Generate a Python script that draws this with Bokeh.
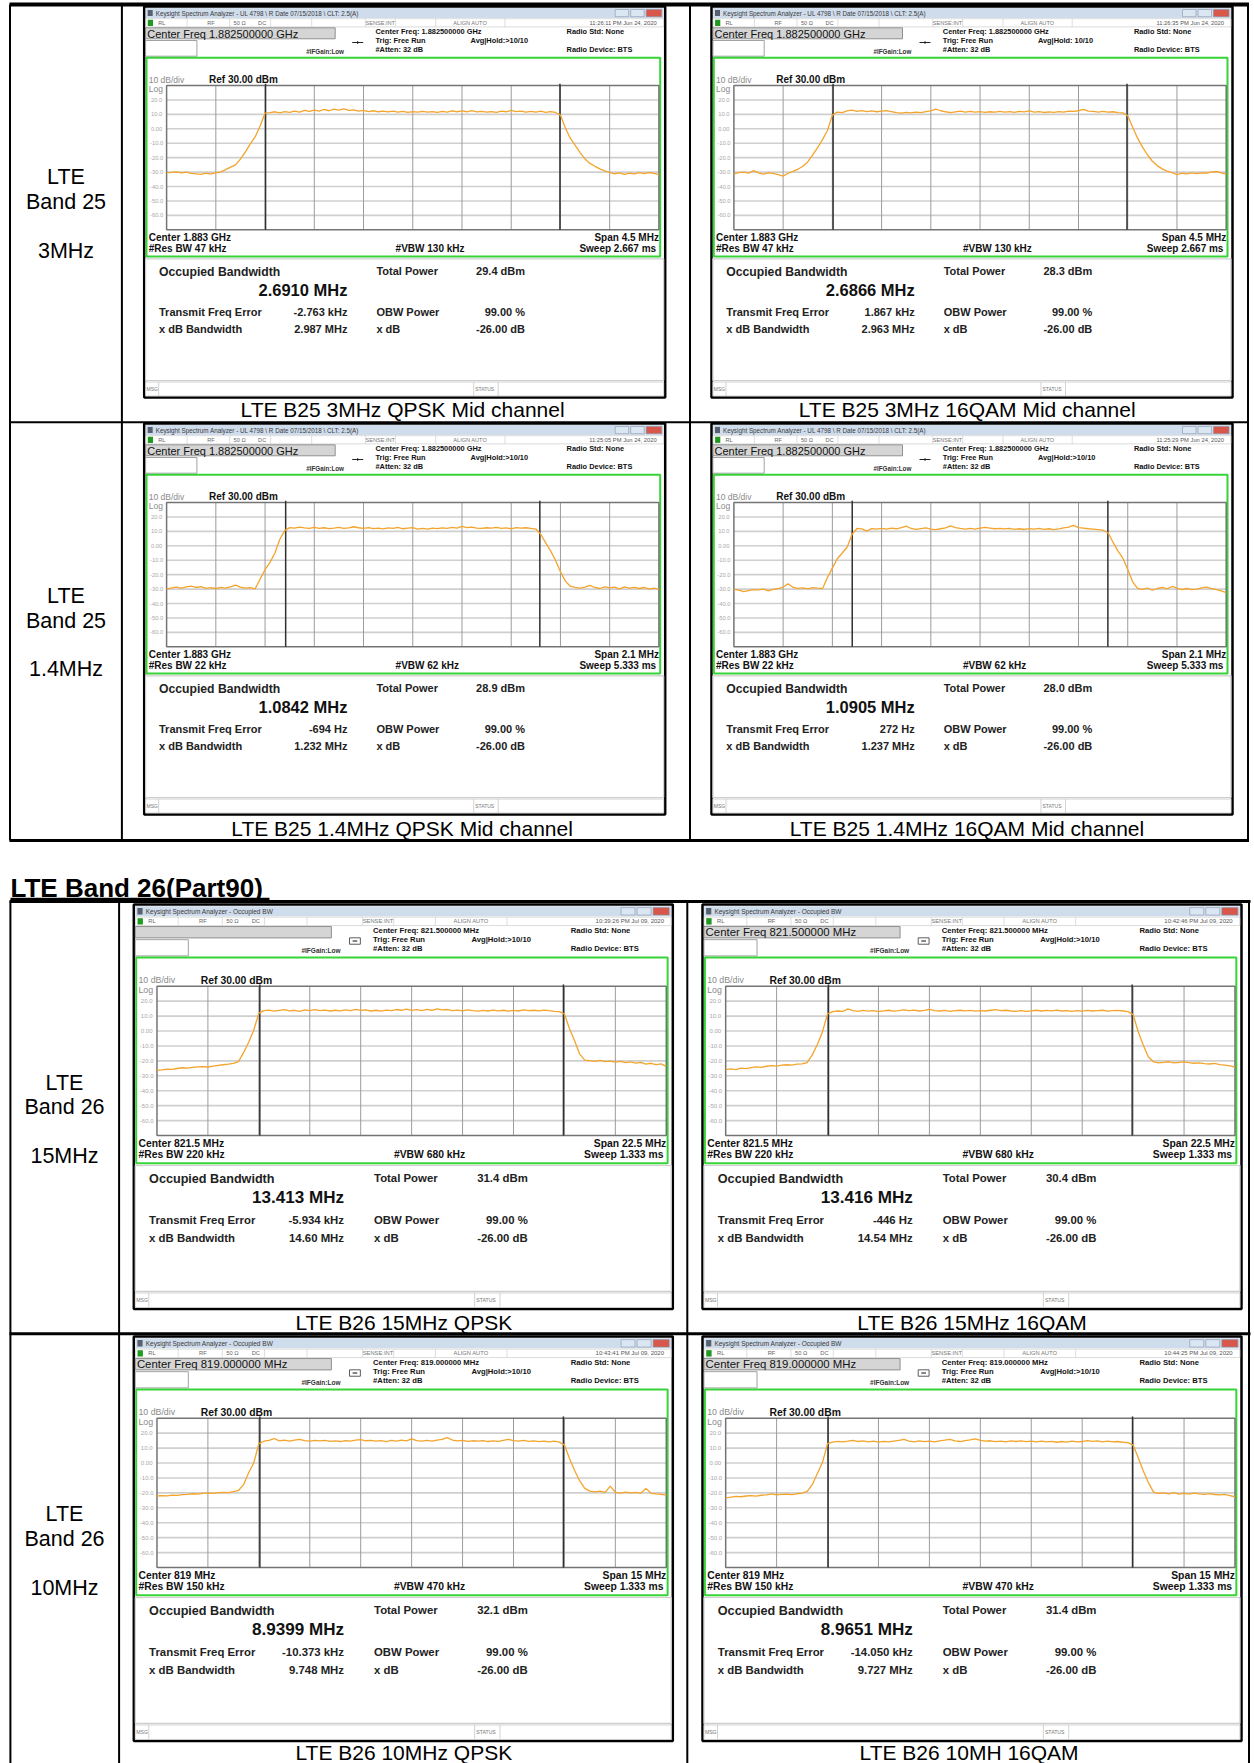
import numpy as np
from bokeh.plotting import figure
from bokeh.models import Range1d, ColumnDataSource
from bokeh.core.properties import value
from bokeh.embed import file_html
from bokeh.resources import INLINE

FONT = value("Liberation Sans")
ORANGE = "#f4a42c"

# ------------------------------------------------------------------ data
heading_b26 = "LTE Band 26(Part90)"
row_labels = [("LTE", "Band 25", "3MHz"), ("LTE", "Band 25", "1.4MHz"),
              ("LTE", "Band 26", "15MHz"), ("LTE", "Band 26", "10MHz")]
captions = ["LTE B25 3MHz  QPSK Mid channel", "LTE B25 3MHz  16QAM  Mid channel",
            "LTE B25 1.4MHz  QPSK Mid channel", "LTE B25 1.4MHz  16QAM  Mid channel",
            "LTE B26 15MHz QPSK", "LTE B26 15MHz 16QAM",
            "LTE B26 10MHz QPSK", "LTE B26 10MH  16QAM"]
title_b25 = "Keysight Spectrum Analyzer - UL 4798 \\ R Date 07/15/2018 \\ CLT: 2.5(A)"
title_b26 = "Keysight Spectrum Analyzer - Occupied BW"
window_titles = [title_b25] * 4 + [title_b26] * 4
timestamps = ["11:26:11 PM Jun 24, 2020", "11:26:35 PM Jun 24, 2020",
              "11:25:05 PM Jun 24, 2020", "11:25:29 PM Jun 24, 2020",
              "10:39:26 PM Jul 09, 2020", "10:42:46 PM Jul 09, 2020",
              "10:43:41 PM Jul 09, 2020", "10:44:25 PM Jul 09, 2020"]
center_box = ["Center Freq 1.882500000 GHz"] * 4 + ["", "Center Freq 821.500000 MHz",
              "Center Freq 819.000000 MHz", "Center Freq 819.000000 MHz"]
info_center = ["Center Freq: 1.882500000 GHz"] * 4 + ["Center Freq: 821.500000 MHz"] * 2 + \
              ["Center Freq: 819.000000 MHz"] * 2
avg_hold = ["Avg|Hold:>10/10", "Avg|Hold: 10/10"] + ["Avg|Hold:>10/10"] * 6
status_left = ["RL", "RF", "50 \u03a9", "DC"]
center_lbl = ["Center  1.883 GHz"] * 4 + ["Center  821.5 MHz"] * 2 + ["Center  819 MHz"] * 2
rbw_lbl = ["#Res BW  47 kHz"] * 2 + ["#Res BW  22 kHz"] * 2 + ["#Res BW  220 kHz"] * 2 + ["#Res BW  150 kHz"] * 2
vbw_lbl = ["#VBW  130 kHz"] * 2 + ["#VBW  62 kHz"] * 2 + ["#VBW  680 kHz"] * 2 + ["#VBW  470 kHz"] * 2
span_lbl = ["Span 4.5 MHz"] * 2 + ["Span 2.1 MHz"] * 2 + ["Span 22.5 MHz"] * 2 + ["Span 15 MHz"] * 2
sweep_lbl = ["Sweep  2.667 ms"] * 2 + ["Sweep  5.333 ms"] * 2 + ["Sweep  1.333 ms"] * 4
span_mhz = [4.5, 4.5, 2.1, 2.1, 22.5, 22.5, 15.0, 15.0]
obw_mhz = [2.6910, 2.6866, 1.0842, 1.0905, 13.413, 13.416, 8.9399, 8.9651]
obw_text = ["2.6910 MHz", "2.6866 MHz", "1.0842 MHz", "1.0905 MHz",
            "13.413 MHz", "13.416 MHz", "8.9399 MHz", "8.9651 MHz"]
total_power = ["29.4 dBm", "28.3 dBm", "28.9 dBm", "28.0 dBm",
               "31.4 dBm", "30.4 dBm", "32.1 dBm", "31.4 dBm"]
freq_error = ["-2.763 kHz", "1.867 kHz", "-694 Hz", "272 Hz",
              "-5.934 kHz", "-446 Hz", "-10.373 kHz", "-14.050 kHz"]
xdb_bw = ["2.987 MHz", "2.963 MHz", "1.232 MHz", "1.237 MHz",
          "14.60 MHz", "14.54 MHz", "9.748 MHz", "9.727 MHz"]
obw_power = "99.00 %"
xdb_level = "-26.00 dB"
ref_level = 30.0
db_per_div = 10.0
grid_labels = ["20.0", "10.0", "0.00", "-10.0", "-20.0", "-30.0", "-40.0", "-50.0", "-60.0"]

# sweep positions in graticule divisions (0..10), one reading every 0.1 div
sweep_div = [i / 10 for i in range(101)]

trace_b25_3_qpsk = [
    -30.5, -30.2, -29.8, -30.6, -30.0, -30.9, -31.2, -31.6, -30.8, -31.3,
    -30.6, -29.8, -28.3, -26.6, -25.0, -21.0, -16.0, -10.5, -5.5, 2.0,
    10.8, 11.2, 11.8, 11.1, 11.9, 11.4, 12.2, 11.6, 12.8, 12.0,
    13.0, 12.3, 13.4, 12.5, 13.7, 12.9, 13.8, 12.8, 13.1, 12.3,
    12.7, 11.9, 12.5, 11.8, 12.3, 11.7, 12.2, 11.5, 12.0, 11.4,
    11.9, 11.5, 12.1, 11.6, 11.9, 11.3, 12.0, 11.5, 12.5, 11.8,
    12.4, 11.8, 12.6, 11.7, 12.1, 11.5, 11.9, 11.3, 12.3, 11.8,
    12.7, 11.9, 12.3, 11.5, 12.1, 11.6, 12.2, 11.4, 11.9, 11.3,
    9.5, 0.5, -6.5, -11.5, -16.5, -21.0, -24.0, -26.0, -27.8, -29.2,
    -30.2, -31.3, -30.5, -31.6, -30.8, -31.2, -30.4, -31.0, -30.3, -30.9,
    -31.8]
trace_b25_3_16qam = [
    -31.2, -30.4, -30.0, -30.8, -29.0, -30.6, -31.4, -30.5, -30.9, -31.8,
    -32.8, -30.8, -29.5, -28.0, -26.0, -23.0, -18.0, -13.0, -7.5, -1.2,
    9.5, 11.6, 11.2, 12.4, 12.9, 12.1, 12.6, 11.9, 12.4, 11.8,
    12.3, 12.6, 11.9, 11.2, 10.9, 11.4, 11.0, 11.6, 11.2, 11.9,
    12.4, 13.6, 12.5, 11.8, 11.2, 11.7, 12.2, 11.6, 12.1, 11.5,
    11.9, 11.4, 11.8, 11.5, 12.0, 11.6, 11.9, 11.4, 12.1, 11.7,
    12.4, 11.6, 11.9, 11.3, 11.7, 11.4, 11.9, 11.6, 12.3, 12.0,
    12.5, 13.4, 12.2, 12.0, 11.5, 12.1, 11.6, 11.8, 11.2, 11.0,
    9.0, 1.0, -6.5, -12.7, -18.0, -22.5, -25.5, -27.8, -29.3, -30.4,
    -31.7, -30.8, -31.2, -30.6, -31.0, -30.5, -30.8, -30.0, -29.6, -30.5,
    -31.5]
trace_b25_14_qpsk = [
    -30.0, -29.2, -28.6, -29.4, -28.4, -28.0, -28.9, -28.3, -29.5, -29.0,
    -29.6, -28.8, -29.3, -28.5, -27.2, -28.6, -29.4, -29.0, -29.8, -23.0,
    -16.5, -11.5, -5.0, 4.5, 10.5, 12.6, 12.2, 13.0, 12.4, 12.0,
    12.7, 12.1, 12.5, 11.9, 12.3, 12.8, 12.0, 12.4, 13.2, 12.5,
    12.1, 12.6, 11.9, 12.3, 11.7, 12.4, 12.0, 12.8, 11.8, 12.2,
    12.6, 11.6, 12.0, 11.5, 12.3, 11.9, 12.4, 12.1, 12.7, 12.2,
    13.4, 12.6, 12.9, 12.3, 12.0, 12.5, 12.2, 12.7, 12.1, 12.4,
    11.8, 12.6, 12.2, 12.5, 12.0, 11.6, 8.0, 2.0, -3.5, -10.0,
    -18.0, -24.5, -28.0, -28.8, -29.3, -28.6, -27.4, -28.9, -29.6, -28.4,
    -29.2, -28.7, -29.8, -28.5, -29.3, -28.8, -29.6, -28.9, -30.0, -29.4,
    -30.2]
trace_b25_14_16qam = [
    -30.2, -30.8, -31.8, -31.0, -30.4, -30.6, -30.0, -31.3, -30.2, -29.6,
    -28.6, -26.3, -28.8, -29.5, -29.2, -29.8, -29.0, -29.4, -29.7, -22.0,
    -15.5, -9.0, -5.0, -1.0, 8.0, 12.0, 11.7, 10.2, 11.9, 11.5,
    12.0, 11.6, 12.3, 11.8, 12.6, 13.6, 12.0, 11.4, 11.9, 12.4,
    11.6, 11.2, 11.8, 12.4, 13.8, 12.6, 12.0, 11.5, 12.0, 11.6,
    12.2, 12.8, 12.3, 11.8, 12.1, 11.7, 12.0, 11.4, 11.8, 11.3,
    11.9, 11.5, 12.0, 11.4, 11.8, 11.2, 11.7, 12.4, 12.9, 14.2,
    12.6, 12.3, 11.8, 11.5, 11.2, 10.8, 9.0, 2.5, -3.5, -8.5,
    -16.5, -25.0, -29.5, -30.2, -29.4, -30.8, -29.6, -28.9, -29.8, -28.2,
    -29.4, -30.3, -29.6, -30.4, -30.0, -29.2, -28.6, -29.6, -30.4, -31.2,
    -32.4]
trace_b26_15_qpsk = [
    -26.4, -26.0, -25.5, -25.7, -25.1, -24.6, -24.9, -24.3, -24.0, -23.8,
    -24.1, -23.5, -23.0, -22.6, -22.2, -21.7, -20.5, -14.5, -7.5, 0.5,
    12.0, 13.6, 14.0, 13.3, 13.8, 14.3, 13.5, 13.9, 13.2, 14.1,
    13.6, 14.4, 13.7, 14.0, 13.4, 13.9, 13.5, 14.2, 13.7, 14.5,
    13.8, 14.1, 13.4, 13.9, 13.3, 14.0, 13.6, 14.4, 13.9, 14.6,
    13.8, 14.3, 13.7, 14.5, 13.9, 14.8, 14.1, 14.4, 13.6, 14.0,
    13.5, 14.2, 13.7, 13.3, 13.8, 13.4, 14.0, 13.5, 13.9, 13.3,
    13.8, 13.4, 14.1, 13.6, 13.9, 13.5, 14.0, 13.6, 13.2, 13.0,
    11.5, 1.5, -6.5, -15.5, -19.5, -19.9, -20.3, -19.6, -20.5, -20.1,
    -20.8, -20.4, -21.2, -20.7, -21.5, -21.0, -22.2, -21.6, -22.5, -22.0,
    -23.7]
trace_b26_15_16qam = [
    -25.9, -25.4, -25.8, -24.9, -25.2, -24.5, -24.0, -24.3, -23.6, -23.2,
    -23.5, -22.9, -22.6, -22.8, -22.2, -22.0, -21.2, -16.0, -9.0, -0.6,
    11.5, 13.0, 13.4, 13.1, 14.8, 13.6, 13.2, 13.8, 13.3, 13.6,
    13.0, 13.5, 13.9, 13.3, 13.7, 14.2, 13.6, 14.0, 13.4, 13.8,
    14.5, 13.7, 13.4, 13.8, 13.2, 13.6, 13.9, 13.5, 13.8, 13.3,
    13.7, 13.4, 13.9, 14.3, 13.6, 13.9, 13.4, 13.2, 13.6, 13.1,
    13.5, 13.9, 13.4, 13.8, 13.5, 14.0, 13.4, 13.7, 13.2, 13.6,
    13.3, 13.8, 13.4, 13.7, 13.9, 13.3, 13.6, 13.8, 13.4, 13.0,
    11.0, -0.5, -9.6, -17.4, -20.6, -21.3, -21.0, -20.6, -21.4, -21.0,
    -20.7, -21.2, -21.6, -21.3, -21.8, -22.1, -21.7, -22.5, -22.9, -23.4,
    -24.1]
trace_b26_10_qpsk = [
    -22.1, -21.8, -22.0, -21.5, -21.7, -21.2, -21.0, -20.6, -20.9, -20.3,
    -20.0, -20.4, -19.8, -19.6, -19.9, -19.1, -18.4, -14.5, -6.5, 0.0,
    13.0, 14.6, 15.2, 16.4, 14.8, 15.3, 14.7, 15.4, 15.9, 15.0,
    14.6, 15.2, 14.8, 15.1, 14.5, 14.9, 14.4, 15.0, 14.7, 15.3,
    15.6, 14.9, 15.2, 14.6, 15.0, 14.4, 15.1, 14.7, 15.3, 14.9,
    16.2, 15.0, 14.6, 15.1, 14.7, 15.3, 15.8, 17.0, 15.4, 14.8,
    15.1, 14.5, 14.9, 14.6, 15.0, 14.4, 14.8, 14.5, 15.2, 15.8,
    15.0, 14.6, 15.1, 14.5, 14.9, 14.3, 14.7, 14.2, 14.6, 14.0,
    12.0, 3.0, -5.0, -12.0, -17.0, -18.8, -19.4, -18.9, -19.7, -15.5,
    -19.6, -20.1, -19.5, -20.0, -19.7, -20.2, -17.0, -20.3, -20.7, -21.0,
    -21.5]
trace_b26_10_16qam = [
    -23.3, -22.9, -22.4, -22.6, -22.1, -21.8, -22.2, -21.6, -21.3, -20.6,
    -21.4, -21.0, -20.8, -21.2, -20.6, -20.2, -19.0, -14.5, -7.0, 0.3,
    13.0, 14.0, 14.5, 14.1, 14.6, 15.2, 14.4, 14.8, 14.2, 14.6,
    14.0, 14.5, 14.1, 14.7, 15.1, 15.8, 14.6, 14.2, 14.8, 14.3,
    14.7, 14.2, 14.9, 15.3, 15.9, 14.8, 14.4, 15.0, 15.5, 16.2,
    15.1, 14.6, 14.9, 14.3, 14.7, 14.2, 14.8, 14.4, 14.9, 14.3,
    14.6, 14.1, 14.7, 14.2, 14.5, 13.9, 14.4, 14.0, 14.6, 14.1,
    14.4, 15.0, 14.5, 14.8, 14.2, 14.6, 14.1, 14.4, 13.9, 13.6,
    12.0, 3.5, -5.3, -13.1, -19.5, -20.4, -20.0, -20.6, -19.8, -20.9,
    -20.3, -20.8, -20.1, -20.7, -21.0, -20.5, -21.1, -21.4, -21.0, -21.8,
    -22.6]
traces = [trace_b25_3_qpsk, trace_b25_3_16qam, trace_b25_14_qpsk, trace_b25_14_16qam,
          trace_b26_15_qpsk, trace_b26_15_16qam, trace_b26_10_qpsk, trace_b26_10_16qam]

# ------------------------------------------------------------------ layout (page pixels)
S26 = 539.0 / 521.0
panel_xy = [(143.7, 6.0), (711.0, 6.0), (143.7, 423.0), (711.0, 423.0),
            (133.3, 904.0), (702.0, 904.0), (133.3, 1336.0), (702.0, 1336.0)]
panel_scale = [1.0] * 4 + [S26] * 4
caption_xy = [(405, 409.3), (972.5, 409.3), (404.5, 828.3), (972.3, 828.3),
              (403.3, 1321.7), (971.6, 1321.7), (403.3, 1751.5), (971.5, 1751.5)]
row_label_x = [65.5, 65.5, 64.0, 64.0]
row_label_y = [(176.3, 201.7, 250.7), (595.0, 620.0, 668.3),
               (1082.7, 1106.7, 1155.0), (1513.3, 1538.3, 1587.3)]

p = figure(width=1254, height=1763, x_range=Range1d(0, 1254), y_range=Range1d(1763, 0),
           output_backend="svg", toolbar_location=None, tools="",
           x_axis_location=None, y_axis_location=None, min_border=0)
p.grid.visible = False
p.outline_line_color = None
p.background_fill_color = "white"
p.border_fill_color = "white"

quad_groups = {}
line_groups = {}
text_groups = {}


def Q(x0, y0, x1, y1, fill="white", line=None, lw=1.0):
    g = quad_groups.setdefault((fill, line, lw), dict(left=[], right=[], top=[], bottom=[]))
    g["left"].append(x0); g["right"].append(x1); g["top"].append(y0); g["bottom"].append(y1)


def L(xs, ys, color="black", width=1.0):
    g = line_groups.setdefault((color, width), dict(xs=[], ys=[]))
    g["xs"].append(list(xs)); g["ys"].append(list(ys))


def T(x, y, txt, size, style="normal", color="#000", align="left"):
    g = text_groups.setdefault((round(size, 2), style, color, align), dict(x=[], y=[], text=[]))
    g["x"].append(x); g["y"].append(y); g["text"].append(txt)


# ---- document tables
Q(9, 2, 1248.5, 6, "black", None)
for xv in (9.5, 121.4, 689.5, 1247.5):
    L([xv, xv], [4, 840], "black", 2)
L([9, 1248.5], [421.7, 421.7], "black", 2)
L([9, 1248.5], [840, 840], "black", 3)

T(10, 887.0, heading_b26, 26, "bold", "#000")
L([10, 269], [898.6, 898.6], "black", 2.5)
L([9, 1250], [901.0, 901.0], "black", 3)
for xv in (9.9, 118.6, 686.8, 1248.5):
    L([xv, xv], [901, 1763], "black", 2)
L([9, 1250], [1333.3, 1333.3], "black", 3)

for r in range(4):
    for txt, yv in zip(row_labels[r], row_label_y[r]):
        T(row_label_x[r], yv, txt, 21.5, "normal", "#000", "center")
for k in range(8):
    T(caption_xy[k][0], caption_xy[k][1], captions[k], 21, "normal", "#000", "center")


# ---- analyser screenshot furniture
def panel_static(k):
    x0, y0 = panel_xy[k]
    s = panel_scale[k]
    X = lambda d: x0 + d * s
    Y = lambda d: y0 + d * s
    fs = lambda v: v * s
    b26 = k >= 4
    Q(X(0), Y(0), X(521), Y(391), "white", "black", 2.5)
    # title bar
    Q(X(1.6), Y(1.6), X(519.4), Y(11.4), "#cfdcec", None)
    Q(X(3.5), Y(3.4), X(8.5), Y(9.6), "#56606e", None)
    T(X(11.5), Y(6.6), window_titles[k], fs(6.3), "normal", "#3a3a3a")
    Q(X(471), Y(3), X(484.5), Y(10.2), "#dbe6f3", "#8796aa", 0.6)
    Q(X(486.5), Y(3), X(500), Y(10.2), "#dbe6f3", "#8796aa", 0.6)
    Q(X(502), Y(3), X(517.5), Y(10.2), "#d8574a", "#8796aa", 0.6)
    # status row
    Q(X(1.6), Y(12.2), X(519.4), Y(20.4), "white", "#c2c2c2", 0.6)
    Q(X(3.6), Y(13.2), X(8.8), Y(19.4), "#1f9a1f", None)
    for sx in (42.9, 85.5, 126.4, 167.5, 221.2, 251.2, 291.5, 360.7):
        L([X(sx), X(sx)], [Y(12.2), Y(20.4)], "#c8c8c8", 0.6)
    for txt, sx in zip(status_left, (14, 63, 89.4, 113.9)):
        T(X(sx), Y(16.4), txt, fs(5.6), "normal", "#666")
    T(X(236), Y(16.4), "SENSE:INT", fs(5.6), "normal", "#777", "center")
    T(X(326), Y(16.4), "ALIGN AUTO", fs(5.6), "normal", "#777", "center")
    T(X(512.5), Y(16.4), timestamps[k], fs(5.8), "normal", "#555", "right")
    # header boxes
    Q(X(1.4), Y(21.3), X(191), Y(32.3), "#d5d5d5", "#7a7a7a", 0.8)
    T(X(3), Y(27), center_box[k], fs(11), "normal", "#111")
    Q(X(1.4), Y(34), X(52.7), Y(49.7), "white", "#8a8a8a", 0.8)
    if b26:
        Q(X(208.5), Y(32.2), X(219), Y(38.4), "white", "#333", 0.8)
        L([X(211.5), X(216)], [Y(35.3), Y(35.3)], "#333", 1.2)
    else:
        L([X(208), X(219)], [Y(36), Y(36)], "#222", 1)
        L([X(213.5), X(213.5)], [Y(34.6), Y(37.4)], "#222", 1)
    T(X(162), Y(44.5), "#IFGain:Low", fs(6.3), "bold", "#333")
    T(X(231.3), Y(25), info_center[k], fs(7.4), "bold", "#111")
    T(X(231.3), Y(34), "Trig: Free Run", fs(7.4), "bold", "#111")
    T(X(231.3), Y(43), "#Atten: 32 dB", fs(7.4), "bold", "#111")
    T(X(326.4), Y(34), avg_hold[k], fs(7.4), "bold", "#111")
    T(X(422.4), Y(25), "Radio Std: None", fs(7.4), "bold", "#111")
    T(X(422.4), Y(43), "Radio Device: BTS", fs(7.4), "bold", "#111")
    # trace window
    Q(X(2.3), Y(51.3), X(516), Y(250), None, "#36d436", 2)
    T(X(4.5), Y(73.3), "10 dB/div", fs(8.5), "normal", "#8a8a8a")
    T(X(64.8), Y(73.3), "Ref 30.00 dBm", fs(10), "bold", "#111")
    T(X(4.5), Y(82.3), "Log", fs(8.5), "normal", "#8a8a8a")
    T(X(4.5), Y(230.7), center_lbl[k], fs(10), "bold", "#111")
    T(X(4.5), Y(241.7), rbw_lbl[k], fs(10), "bold", "#111")
    T(X(251.4), Y(241.7), vbw_lbl[k], fs(10), "bold", "#111")
    T(X(514.7), Y(230.7), span_lbl[k], fs(10), "bold", "#111", "right")
    T(X(514.7), Y(241.7), sweep_lbl[k], fs(10), "bold", "#111", "right")
    # measurement results
    Q(X(1.4), Y(252.3), X(519.5), Y(374), "white", "#cdcdcd", 1.2)
    T(X(14.8), Y(265.7), "Occupied Bandwidth", fs(12.2), "bold", "#222")
    T(X(114.3), Y(283.3), obw_text[k], fs(16.5), "bold", "#111")
    T(X(232.2), Y(264.3), "Total Power", fs(11), "bold", "#222")
    T(X(380.8), Y(264.3), total_power[k], fs(11), "bold", "#222", "right")
    T(X(14.8), Y(305), "Transmit Freq Error", fs(11), "bold", "#222")
    T(X(203.2), Y(305), freq_error[k], fs(11), "bold", "#222", "right")
    T(X(232.2), Y(305), "OBW Power", fs(11), "bold", "#222")
    T(X(380.8), Y(305), obw_power, fs(11), "bold", "#222", "right")
    T(X(14.8), Y(322.7), "x dB Bandwidth", fs(11), "bold", "#222")
    T(X(203.2), Y(322.7), xdb_bw[k], fs(11), "bold", "#222", "right")
    T(X(232.2), Y(322.7), "x dB", fs(11), "bold", "#222")
    T(X(380.8), Y(322.7), xdb_level, fs(11), "bold", "#222", "right")
    # bottom status bar
    Q(X(1.4), Y(375.5), X(519.5), Y(389.5), "white", "#c4c4c4", 0.8)
    for sx in (14.5, 329.5, 354):
        L([X(sx), X(sx)], [Y(375.5), Y(389.5)], "#c8c8c8", 0.8)
    T(X(2.3), Y(382.5), "MSG", fs(5), "normal", "#777")
    T(X(331), Y(382.5), "STATUS", fs(5), "normal", "#777")


for k in range(8):
    panel_static(k)

for (fill, line, lw), g in quad_groups.items():
    p.quad(left="left", right="right", top="top", bottom="bottom", source=ColumnDataSource(g),
           fill_color=fill, line_color=line, line_width=lw)
for (color, width), g in line_groups.items():
    p.multi_line(xs="xs", ys="ys", source=ColumnDataSource(g), line_color=color, line_width=width)


# ---- graticule + trace, drawn in each analyser's own frequency / dBm coordinates
def panel_trace(k):
    x0, y0 = panel_xy[k]
    s = panel_scale[k]
    gx0, gx1 = x0 + 22.4 * s, x0 + 514.7 * s
    gy0, gy1 = y0 + 79.0 * s, y0 + 223.3 * s
    half = span_mhz[k] / 2.0
    step = span_mhz[k] / 10.0
    bottom = ref_level - 10 * db_per_div
    sp = p.subplot(x_source=Range1d(-half, half), y_source=Range1d(bottom, ref_level),
                   x_target=Range1d(gx0, gx1), y_target=Range1d(gy1, gy0))
    levels = [ref_level - j * db_per_div for j in range(1, 10)]
    hx = [[-half, half]] * 9
    hy = [[lv, lv] for lv in levels]
    sp.multi_line(xs=hx, ys=hy, line_color="#cfcfcf", line_width=1.6)
    vx = [[-half + i * step] * 2 for i in range(1, 10)]
    vy = [[bottom, ref_level]] * 9
    sp.multi_line(xs=vx, ys=vy, line_color="#9c9c9c", line_width=1)
    sp.quad(left=[-half], right=[half], bottom=[bottom], top=[ref_level],
            fill_color=None, line_color="#747474", line_width=1.5)
    sp.text(x=[-half] * 9, y=levels, text=grid_labels, x_offset=-10 * s,
            text_font=FONT, text_font_size=f"{5.8 * s:.2f}px", text_color="#a8a8a8",
            text_align="center", text_baseline="middle")
    ob = obw_mhz[k] / 2.0
    sp.segment(x0=[-ob, ob], y0=[bottom, bottom], x1=[-ob, ob], y1=[ref_level + 1.2, ref_level + 1.2],
               line_color="#303030", line_width=1.5)
    freq = [(d - 5.0) * step for d in sweep_div]
    sp.line(x=freq, y=traces[k], line_color=ORANGE, line_width=1.3)


for k in range(8):
    panel_trace(k)

for (size, style, color, align), g in text_groups.items():
    p.text(x="x", y="y", text="text", source=ColumnDataSource(g), text_font=FONT,
           text_font_size=f"{size:.2f}px", text_font_style=style, text_color=color,
           text_align=align, text_baseline="middle")

open("out.html", "w").write(file_html(p, INLINE))
